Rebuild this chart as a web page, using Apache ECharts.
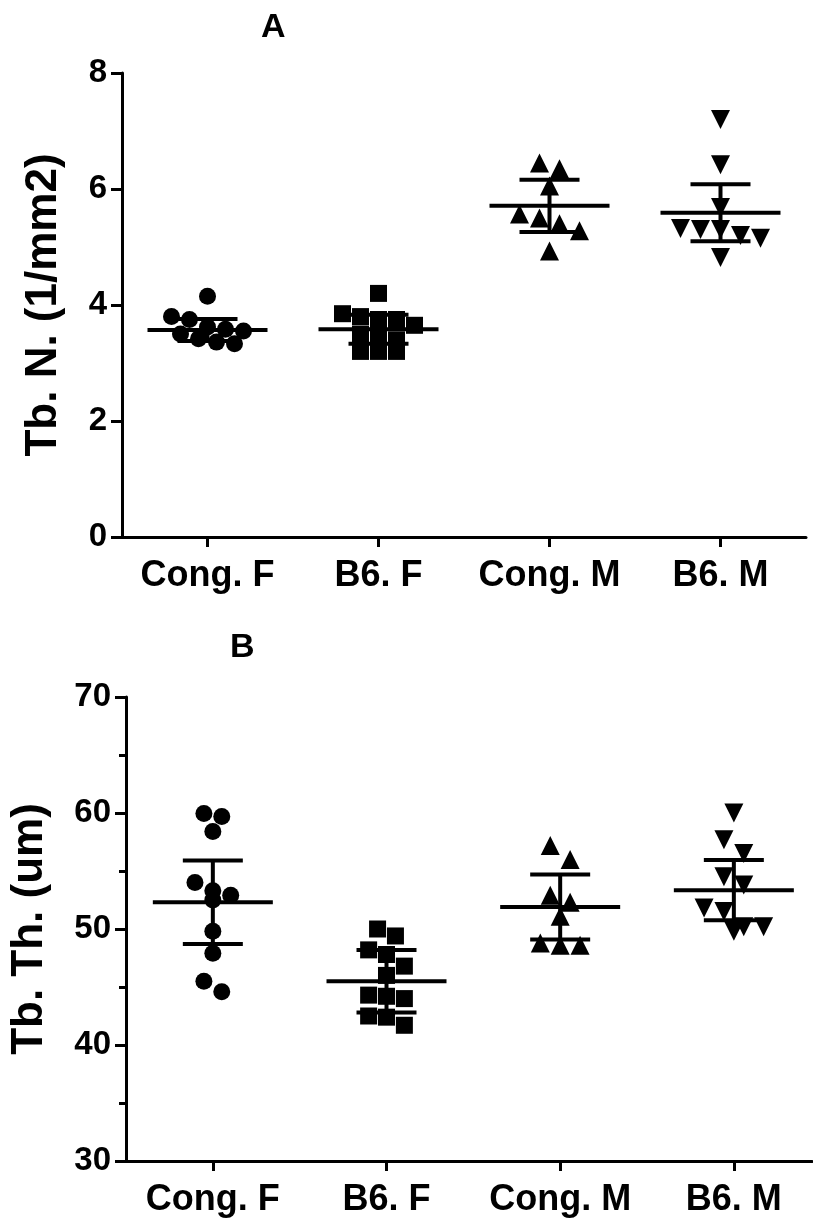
<!DOCTYPE html>
<html>
<head>
<meta charset="utf-8">
<script src="https://cdn.jsdelivr.net/npm/echarts@6/dist/echarts.min.js"></script>
<style>
html,body{margin:0;padding:0;background:#fff}
#main{width:813px;height:1224px}
</style>
</head>
<body>
<div id="main"></div>
<script>
// groups on the x axis
var groups = ['Cong. F', 'B6. F', 'Cong. M', 'B6. M'];

// panel A : Tb. N. (1/mm2)
var congF_A = [4.15, 3.8, 3.75, 3.62, 3.58, 3.55, 3.5, 3.42, 3.36, 3.33];
var b6F_A = [4.2, 3.85, 3.8, 3.75, 3.75, 3.65, 3.5, 3.45, 3.4, 3.2, 3.2, 3.2];
var congM_A = [6.45, 6.35, 6.05, 5.57, 5.5, 5.4, 5.28, 4.93];
var b6M_A = [7.2, 6.42, 5.68, 5.32, 5.3, 5.3, 5.2, 5.15, 4.82];
var meanA = [3.57, 3.58, 5.71, 5.59];
var sdA = [0.19, 0.25, 0.45, 0.49];
var ticksA = [0, 2, 4, 6, 8];

// panel B : Tb. Th. (um)
var congF_B = [59.95, 59.7, 58.4, 54.0, 53.3, 52.9, 52.5, 49.8, 47.9, 45.5, 44.6];
var b6F_B = [50.0, 49.4, 48.2, 47.8, 46.8, 46.0, 44.3, 44.2, 44.0, 42.5, 42.4, 41.7];
var congM_B = [57.2, 56.0, 52.9, 52.3, 51.1, 48.8, 48.6, 48.6];
var b6M_B = [60.0, 57.7, 56.5, 54.5, 53.8, 51.8, 51.5, 50.2, 50.2, 49.8];
var meanB = [52.3, 45.5, 51.9, 53.35];
var sdB = [3.6, 2.7, 2.8, 2.6];
var ticksB = [30, 40, 50, 60, 70];

var font = 'Liberation Sans, Arial, sans-serif';
var symbols = ['circle', 'rect', 'triangle', 'triangle'];
var rotates = [0, 0, 0, 180];
var sizes = [17, 17, 19, 19];

// grid boxes (px)
var gA = {left: 122, top: 73, width: 684, height: 464, xmin: -0.5, xmax: 3.5, ymin: 0, ymax: 8};
var gB = {left: 121, top: 697, width: 691, height: 464, xmin: -0.5, xmax: 3.45, ymin: 30, ymax: 70};

// GraphPad like spread: points of about the same height sit side by side
function spread(values, gi, g, size) {
  var pxX = g.width / (g.xmax - g.xmin);
  var pxY = g.height / (g.ymax - g.ymin);
  var sorted = values.slice().sort(function(a, b){ return b - a; });
  var out = [], bin = [];
  function flush() {
    var n = bin.length;
    bin.forEach(function(v, k){
      out.push([gi + (k - (n - 1) / 2) * (size + 1) / pxX, v]);
    });
    bin = [];
  }
  sorted.forEach(function(v){
    if (bin.length && (bin[0] - v) * pxY > size) flush();
    bin.push(v);
  });
  flush();
  return out;
}

function meanSd(params, api) {
  var x = api.value(0), m = api.value(1), s = api.value(2);
  var c = api.coord([x, m]);
  var hi = api.coord([x, m + s]);
  var lo = api.coord([x, m - s]);
  var st = {stroke: '#000', lineWidth: 4};
  return {
    type: 'group',
    children: [
      {type: 'line', shape: {x1: c[0] - 60, y1: c[1], x2: c[0] + 60, y2: c[1]}, style: st},
      {type: 'line', shape: {x1: c[0], y1: hi[1], x2: c[0], y2: lo[1]}, style: st},
      {type: 'line', shape: {x1: c[0] - 30, y1: hi[1], x2: c[0] + 30, y2: hi[1]}, style: st},
      {type: 'line', shape: {x1: c[0] - 30, y1: lo[1], x2: c[0] + 30, y2: lo[1]}, style: st}
    ]
  };
}

function xAxisFor(idx, g) {
  return {
    type: 'value', gridIndex: idx, min: g.xmin, max: g.xmax,
    axisLine: {show: true, onZero: false, lineStyle: {color: '#000', width: 3}},
    axisTick: {show: true, customValues: [0, 1, 2, 3], length: 10, lineStyle: {color: '#000', width: 3}},
    axisLabel: {
      customValues: [0, 1, 2, 3], margin: 21,
      fontFamily: font, fontWeight: 'bold', fontSize: 36, color: '#000',
      formatter: function(v){ return groups[Math.round(v)]; }
    },
    splitLine: {show: false}
  };
}

function yAxisFor(idx, g, ticks, name, gap, minor) {
  return {
    type: 'value', gridIndex: idx, min: g.ymin, max: g.ymax, interval: ticks[1] - ticks[0],
    name: name, nameLocation: 'middle', nameGap: gap,
    nameTextStyle: {fontFamily: font, fontWeight: 'bold', fontSize: 44, color: '#000'},
    axisLine: {show: true, onZero: false, lineStyle: {color: '#000', width: 3}},
    axisTick: {show: true, length: 11, lineStyle: {color: '#000', width: 3}},
    minorTick: {show: minor, splitNumber: 2, length: 7, lineStyle: {color: '#000', width: 3}},
    axisLabel: {margin: 15, fontFamily: font, fontWeight: 'bold', fontSize: 33, color: '#000'},
    splitLine: {show: false}
  };
}

var panels = [
  [congF_A, b6F_A, congM_A, b6M_A],
  [congF_B, b6F_B, congM_B, b6M_B]
];
var boxes = [gA, gB];
var means = [meanA, meanB];
var sds = [sdA, sdB];

var series = [];
panels.forEach(function(sets, p){
  sets.forEach(function(vals, gi){
    series.push({
      type: 'scatter', xAxisIndex: p, yAxisIndex: p,
      symbol: symbols[gi], symbolRotate: rotates[gi], symbolSize: sizes[gi],
      itemStyle: {color: '#000', opacity: 1},
      data: spread(vals, gi, boxes[p], sizes[gi]),
      z: 2, silent: true
    });
  });
  series.push({
    type: 'custom', xAxisIndex: p, yAxisIndex: p,
    renderItem: meanSd,
    encode: {x: 0, y: 1},
    data: means[p].map(function(m, i){ return [i, m, sds[p][i]]; }),
    z: 3, silent: true
  });
});

var chart = echarts.init(document.getElementById('main'));
chart.setOption({
  backgroundColor: '#fff',
  animation: false,
  title: [
    {text: 'A', left: 256, top: 6, textStyle: {fontFamily: font, fontWeight: 'bold', fontSize: 34, color: '#000'}},
    {text: 'B', left: 225, top: 626, textStyle: {fontFamily: font, fontWeight: 'bold', fontSize: 34, color: '#000'}}
  ],
  grid: [
    {left: gA.left, top: gA.top, width: gA.width, height: gA.height},
    {left: gB.left, top: gB.top, width: gB.width, height: gB.height}
  ],
  xAxis: [xAxisFor(0, gA), xAxisFor(1, gB)],
  yAxis: [
    yAxisFor(0, gA, ticksA, 'Tb. N. (1/mm2)', 56, false),
    yAxisFor(1, gB, ticksB, 'Tb. Th. (um)', 74, true)
  ],
  series: series
});
</script>
</body>
</html>
